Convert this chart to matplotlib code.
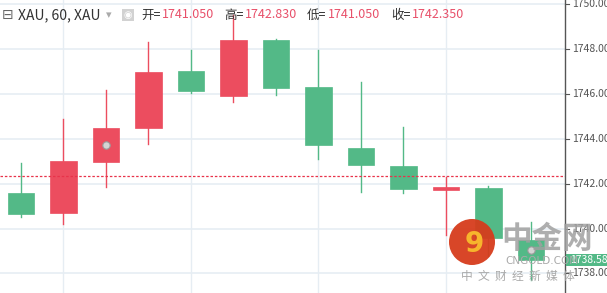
import matplotlib.pyplot as plt
from matplotlib.patches import Ellipse, Rectangle

plt.rcParams['font.family'] = ['Noto Sans CJK SC', 'DejaVu Sans']

# candle data (hourly XAU)
opens  = [1741.58, 1740.69, 1742.96, 1744.48, 1747.02, 1745.90, 1748.40, 1746.30, 1743.59, 1742.78, 1741.71, 1741.80, 1739.49]
highs  = [1742.92, 1744.88, 1746.17, 1748.31, 1747.95, 1749.51, 1748.44, 1747.95, 1746.53, 1744.52, 1742.29, 1741.89, 1740.29]
lows   = [1740.51, 1740.20, 1741.85, 1743.76, 1746.03, 1745.63, 1745.95, 1743.10, 1741.63, 1741.58, 1739.71, 1738.77, 1737.71]
closes = [1740.65, 1743.01, 1744.48, 1746.97, 1746.12, 1748.40, 1746.26, 1743.72, 1742.83, 1741.76, 1741.85, 1739.58, 1738.58]
yticks = [1738, 1740, 1742, 1744, 1746, 1748, 1750]
last_close = 1742.35
current = 1738.58
marker_idx = [2, 12]
marker_px = [1743.72, 1739.04]
header_vals = ['1741.050', '1742.830', '1741.050', '1742.350']
header_keys = ['开=', '高=', '低=', '收=']

up_col = '#ec4d5f'
dn_col = '#53b987'

W, H = 607, 293
fig = plt.figure(figsize=(W / 100, H / 100), dpi=100)
ax = fig.add_axes([0, 0, 565 / W, 1])

step = 42.5
x0 = -21 / step
ax.set_xlim(x0, x0 + 565 / step)
ax.set_ylim(1750 - 289 / 22.45, 1750 + 4 / 22.45)

for gx in [1, 4, 7, 10]:
    ax.axvline(gx, color='#e6edf3', lw=1, zorder=0)
for gy in yticks:
    ax.axhline(gy, color='#e6edf3', lw=1.2, zorder=0)

for i in range(len(opens)):
    o, h, l, c = opens[i], highs[i], lows[i], closes[i]
    col = up_col if c >= o else dn_col
    ax.plot([i, i], [l, h], color=col, lw=1, zorder=2)
    bot = min(o, c)
    ht = max(abs(c - o), 0.12)
    ax.add_patch(Rectangle((i - 0.31, bot), 0.62, ht, facecolor=col,
                           edgecolor=col, lw=0.5, zorder=3))

ax.axhline(last_close, color='#e8334a', lw=0.9, ls=(0, (2, 1.5)), zorder=4)

# hover markers
ax.scatter(marker_idx, marker_px, s=28, color='#d4d4d4', edgecolor='#9a9a9a',
           lw=0.8, zorder=5)

ax.set_xticks([])
ax.set_yticks([])
for s in ['top', 'bottom', 'left']:
    ax.spines[s].set_visible(False)
ax.spines['right'].set_color('#555555')
ax.spines['right'].set_linewidth(1)

# right axis labels
def ypix(p):
    return 1 - (4 + (1750 - p) * 22.45) / H

for v in yticks:
    fy = ypix(v)
    fig.add_artist(plt.Line2D([565 / W, 569 / W], [fy, fy], color='#555555', lw=0.8))
    fig.text(572 / W, fy, '%.3f' % v, fontsize=7.5, color='#555555', va='center', ha='left')

# current price tag
fy = ypix(current)
fig.add_artist(Rectangle((566 / W, fy - 6 / H), 41 / W, 12 / H, transform=fig.transFigure,
                         facecolor=dn_col, edgecolor='none', zorder=5))
fig.text(570 / W, fy, '%.3f' % current, fontsize=7.5, color='white', va='center', ha='left', zorder=6)

# watermark
fig.add_artist(Ellipse((472 / W, 1 - 242 / H), 46 / W, 46 / H, transform=fig.transFigure,
                       facecolor='#d63c1c', edgecolor='none', alpha=0.95, zorder=7))
fig.text(474 / W, 1 - 244 / H, '9', fontsize=20, fontweight='bold', color='#f7b52c',
         ha='center', va='center', zorder=8, family='DejaVu Sans')
fig.text(547 / W, 1 - 239 / H, '中金网', fontsize=22, fontweight='bold', color='#a0a0a0',
         alpha=0.85, ha='center', va='center', zorder=8)
fig.text(542 / W, 1 - 261 / H, 'CNGOLD.COM', fontsize=7.5, color='#aaaaaa',
         ha='center', va='center', zorder=8, family='DejaVu Sans')
fig.text(518 / W, 1 - 276 / H, '中  文  财  经  新  媒  体', fontsize=8.5, color='#aaaaaa',
         ha='center', va='center', zorder=8)

# header
ty = 1 - 15 / H
fig.text(2 / W, ty, '⊟', fontsize=10, color='#666666', va='center', family='DejaVu Sans')
fig.text(18 / W, ty, 'XAU, 60, XAU', fontsize=10, color='#333333', va='center')
fig.text(106 / W, ty, '▾', fontsize=8, color='#aaaaaa', va='center', family='DejaVu Sans')
fig.add_artist(Rectangle((122 / W, ty - 6 / H), 12 / W, 12 / H, transform=fig.transFigure,
                         facecolor='#d2d2d2', edgecolor='none'))
fig.text(128 / W, ty, '◉', fontsize=7, color='white', va='center', ha='center', family='DejaVu Sans')
kx = [141, 224, 307, 391]
for k, v, x in zip(header_keys, header_vals, kx):
    fig.text(x / W, ty, k, fontsize=9, color='#333333', va='center')
    fig.text((x + 21) / W, ty, v, fontsize=9, color='#e8506a', va='center')

fig.savefig('out.png', dpi=100)
